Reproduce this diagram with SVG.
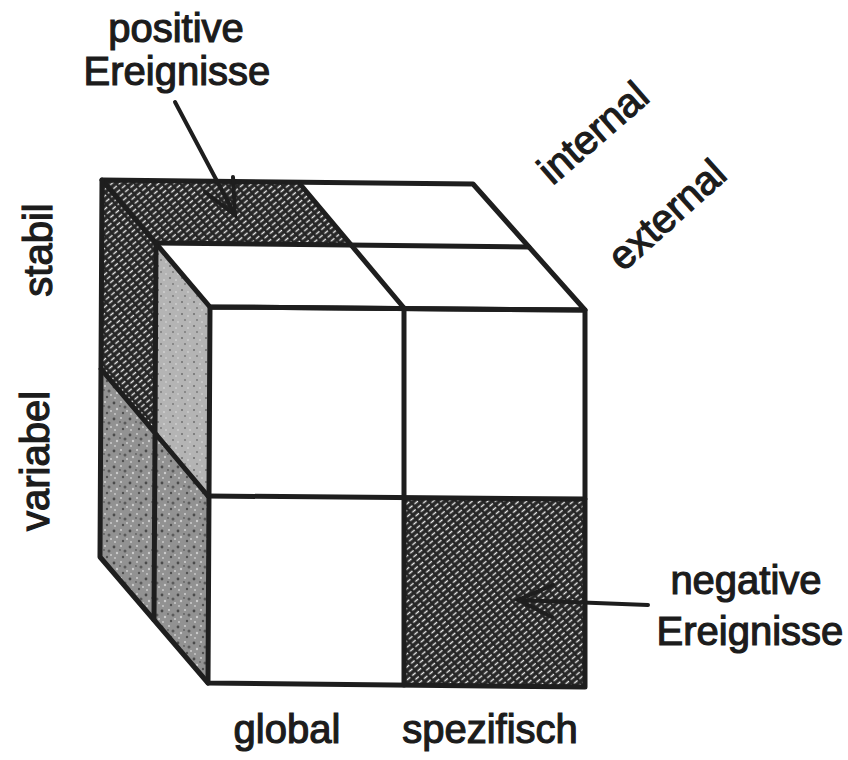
<svg xmlns="http://www.w3.org/2000/svg" width="848" height="760" viewBox="0 0 848 760">
<style>
.t{font-family:"Liberation Sans",Arial,sans-serif;font-size:40px;fill:#1c1c1c;stroke:#1c1c1c;stroke-width:1.2}
.e{fill:none;stroke:#1e1e1e;stroke-width:5;stroke-linejoin:round;stroke-linecap:round}
.a{fill:none;stroke:#1e1e1e;stroke-width:4;stroke-linejoin:miter;stroke-linecap:round}
</style>
<defs>
<pattern id="hatch" width="7" height="5" patternUnits="userSpaceOnUse" patternTransform="rotate(-40)">
<rect width="7" height="5" fill="#262626"/>
<path d="M0.5 2.5 H5" stroke="#eeeeee" stroke-width="1.4"/>
</pattern>
<pattern id="mottle" width="16" height="16" patternUnits="userSpaceOnUse">
<rect width="16" height="16" fill="#929292"/>
<circle cx="2" cy="3" r="1.4" fill="#4a4a4a"/>
<circle cx="9" cy="2" r="1" fill="#d0d0d0"/>
<circle cx="13" cy="7" r="1.5" fill="#5a5a5a"/>
<circle cx="5" cy="9" r="1.2" fill="#cccccc"/>
<circle cx="11" cy="13" r="1.2" fill="#505050"/>
<circle cx="3" cy="14" r="1" fill="#c8c8c8"/>
<circle cx="8" cy="6" r="0.9" fill="#606060"/>
<circle cx="15" cy="11" r="0.9" fill="#d2d2d2"/>
</pattern>
<pattern id="light" width="12" height="12" patternUnits="userSpaceOnUse">
<rect width="12" height="12" fill="#b4b4b4"/>
<circle cx="2" cy="2" r="1" fill="#6e6e6e"/>
<circle cx="8" cy="4" r="0.8" fill="#e2e2e2"/>
<circle cx="5" cy="8" r="1" fill="#7a7a7a"/>
<circle cx="10" cy="10" r="0.8" fill="#dedede"/>
</pattern>
</defs>
<rect width="848" height="760" fill="#fff"/>

<g id="cube">
<g id="top-face">
<polygon points="102,180 473,184 585,310 210,307" fill="#fff"/>
<polygon id="top-positive" points="102,180 300,184 352,246 156,243" fill="url(#hatch)"/>
</g>
<g id="left-face">
<polygon points="102,180 156,243 155,432 101,369" fill="url(#hatch)"/>
<polygon points="156,243 210,307 208,496 155,432" fill="url(#light)"/>
<polygon points="101,369 155,432 154,620 100,557" fill="url(#mottle)"/>
<polygon points="155,432 208,496 208,683 154,620" fill="url(#mottle)"/>
</g>
<g id="front-face">
<polygon points="210,307 585,310 585,687 208,683" fill="#fff"/>
<polygon id="front-negative" points="404,498 585,499 585,687 404,685" fill="url(#hatch)"/>
</g>
<g id="edges">
<polygon class="e" points="102,180 473,184 585,310 210,307"/>
<line class="e" x1="156" y1="243" x2="529" y2="247"/>
<line class="e" x1="300" y1="184" x2="404" y2="308"/>
<polygon class="e" points="210,307 585,310 585,687 208,683"/>
<line class="e" x1="404" y1="308" x2="404" y2="685"/>
<line class="e" x1="208" y1="496" x2="585" y2="499"/>
<polyline class="e" points="102,180 100,557 208,683"/>
<line class="e" x1="156" y1="243" x2="154" y2="620"/>
<line class="e" x1="101" y1="369" x2="208" y2="496"/>
</g>
</g>

<g id="connectors">
<line class="a" x1="175" y1="102" x2="235" y2="215"/>
<polyline class="a" points="233,177 235,215 205,192"/>
<line class="a" x1="648" y1="605" x2="518" y2="600"/>
<polyline class="a" points="553,585 518,600 552,617"/>
</g>

<g id="label-positive">
<text class="t" x="176" y="42" text-anchor="middle">positive</text>
<text class="t" x="177" y="85" text-anchor="middle">Ereignisse</text>
</g>
<g id="label-negative">
<text class="t" x="746" y="594" text-anchor="middle" font-size="39">negative</text>
<text class="t" x="750" y="645" text-anchor="middle" font-size="36">Ereignisse</text>
</g>
<g id="label-internal"><text class="t" text-anchor="middle" transform="translate(602,143) rotate(-41)">internal</text></g>
<g id="label-external"><text class="t" text-anchor="middle" transform="translate(676,225) rotate(-42)">external</text></g>
<g id="label-stabil"><text class="t" text-anchor="middle" transform="translate(52,250) rotate(-90)">stabil</text></g>
<g id="label-variabel"><text class="t" text-anchor="middle" transform="translate(49,461) rotate(-90)">variabel</text></g>
<g id="label-global"><text class="t" x="287" y="743" text-anchor="middle">global</text></g>
<g id="label-spezifisch"><text class="t" x="490" y="743" text-anchor="middle">spezifisch</text></g>
</svg>
